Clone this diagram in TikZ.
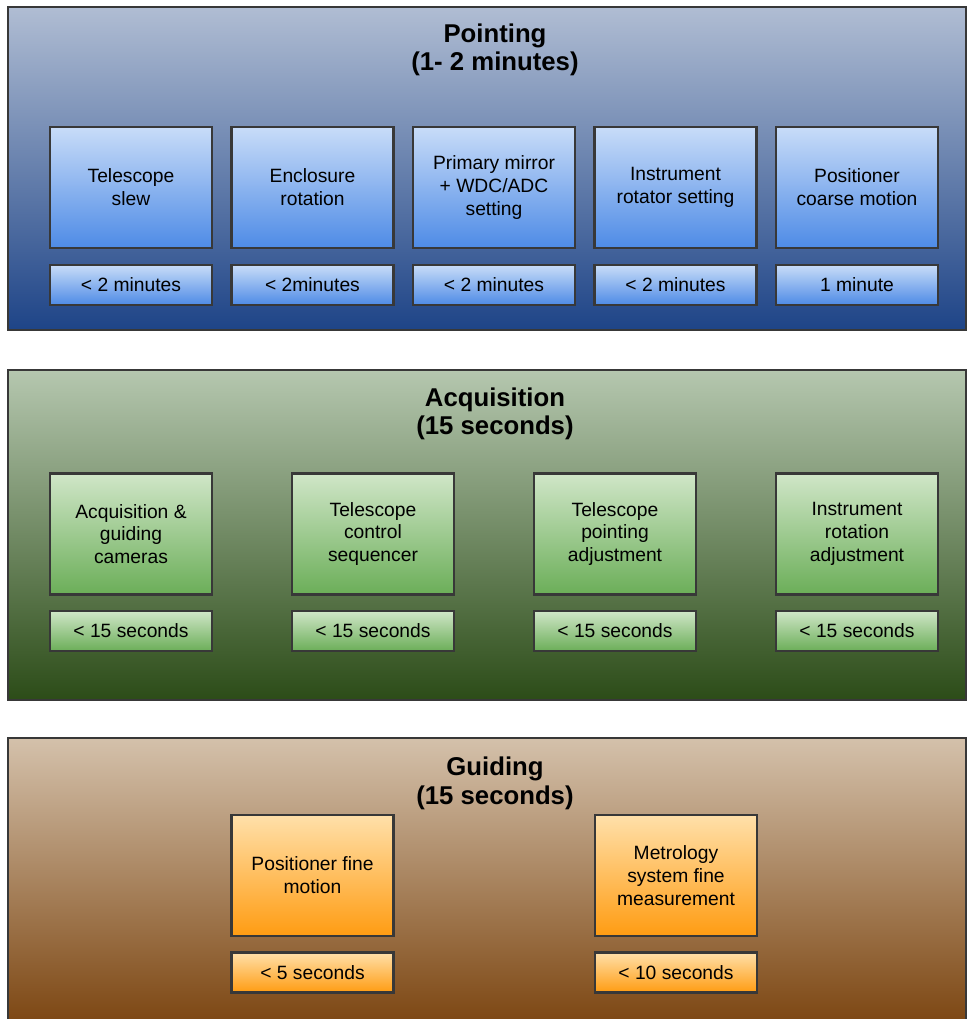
\documentclass[tikz,border=0pt]{standalone}
\usepackage{fontspec}
\setmainfont{Liberation Sans}
\usepackage{tikz}
\usetikzlibrary{positioning}

\definecolor{boxline}{HTML}{383838}
\definecolor{bluetop}{HTML}{B0BDD3}
\definecolor{bluebot}{HTML}{1E4487}
\definecolor{bluelight}{HTML}{C8DCF8}
\definecolor{bluedark}{HTML}{4E8BE6}
\definecolor{greentop}{HTML}{B5C7AF}
\definecolor{greenbot}{HTML}{2C4C18}
\definecolor{greenlight}{HTML}{D0E6C8}
\definecolor{greendark}{HTML}{6BAE58}
\definecolor{browntop}{HTML}{D4C1AB}
\definecolor{brownbot}{HTML}{7A430E}
\definecolor{orangelight}{HTML}{FFE0AA}
\definecolor{orangedark}{HTML}{FF9C12}

\begin{document}
\begin{tikzpicture}[rectangle, node distance=4.5375cm,
		panel/.style={draw=boxline, line width=1.8pt},
		phase/.style={font=\bfseries\fontsize{18.3}{20.5}\selectfont, align=center, inner sep=0pt},
		task/.style={draw=boxline, line width=2pt, minimum width=4.05cm, minimum height=3.025cm, inner sep=0pt, align=center, font=\fontsize{13.7}{16.2}\selectfont},
		time/.style={task, minimum height=1cm},
		bluebox/.style={top color=bluelight, bottom color=bluedark},
		greenbox/.style={top color=greenlight, bottom color=greendark},
		orangebox/.style={top color=orangelight, bottom color=orangedark}]
			
				\useasboundingbox (0,0) rectangle (24.175,25.475);
				
				\draw[panel, top color=bluetop, bottom color=bluebot] (0.2,17.225) rectangle (24.15,25.3);
				\draw[panel, top color=greentop, bottom color=greenbot] (0.2,7.975) rectangle (24.15,16.225);
				\draw[panel, top color=browntop, bottom color=brownbot] (0.2,-0.3) rectangle (24.15,7.025);
				
				\node [phase] (PT) at (12.375,24.23) {Pointing\\(1- 2 minutes)};
				
				\node [task, bluebox] (TS) at (3.275,20.7875) {Telescope\\slew};
				\node [task, bluebox] (ER) [right of=TS] {Enclosure\\rotation};
				\node [task, bluebox] (PM) [right of=ER] {Primary mirror\\+ WDC/ADC\\setting};
				\node [task, bluebox] (IR) [right of=PM] {Instrument\\rotator setting};
				\node [task, bluebox] (PC) [right of=IR] {Positioner\\coarse motion};
				
				\node [time, bluebox] (TSD) [below of=TS, node distance=2.4375cm] {< 2 minutes};
				\node [time, bluebox] (ERD) [below of=ER, node distance=2.4375cm] {< 2minutes};
				\node [time, bluebox] (PMD) [below of=PM, node distance=2.4375cm] {< 2 minutes};
				\node [time, bluebox] (IRD) [below of=IR, node distance=2.4375cm] {< 2 minutes};
				\node [time, bluebox] (PCD) [below of=PC, node distance=2.4375cm] {1 minute};
				
				\node [phase] (AQ) at (12.375,15.13) {Acquisition\\(15 seconds)};
				
				\node [task, greenbox] (AG) at (3.275,12.125) {Acquisition \&\\guiding\\cameras};
				\node [task, greenbox] (TC) [right of=AG, node distance=6.05cm] {Telescope\\control\\sequencer};
				\node [task, greenbox] (TP) [right of=TC, node distance=6.05cm] {Telescope\\pointing\\adjustment};
				\node [task, greenbox] (RA) [right of=TP, node distance=6.05cm] {Instrument\\rotation\\adjustment};
				
				\node [time, greenbox] (AGD) [below of=AG, node distance=2.425cm] {< 15 seconds};
				\node [time, greenbox] (TCD) [below of=TC, node distance=2.425cm] {< 15 seconds};
				\node [time, greenbox] (TPD) [below of=TP, node distance=2.425cm] {< 15 seconds};
				\node [time, greenbox] (RAD) [below of=RA, node distance=2.425cm] {< 15 seconds};
				
				\node [phase] (GD) at (12.375,5.9) {Guiding\\(15 seconds)};
				
				\node [task, orangebox] (PF) at (7.8125,3.5875) {Positioner fine\\motion};
				\node [task, orangebox] (MS) [right of=PF, node distance=9.0875cm] {Metrology\\system fine\\measurement};
				
				\node [time, orangebox] (PFD) [below of=PF, node distance=2.425cm] {< 5 seconds};
				\node [time, orangebox] (MSD) [below of=MS, node distance=2.425cm] {< 10 seconds};
				
			\end{tikzpicture}
\end{document}
